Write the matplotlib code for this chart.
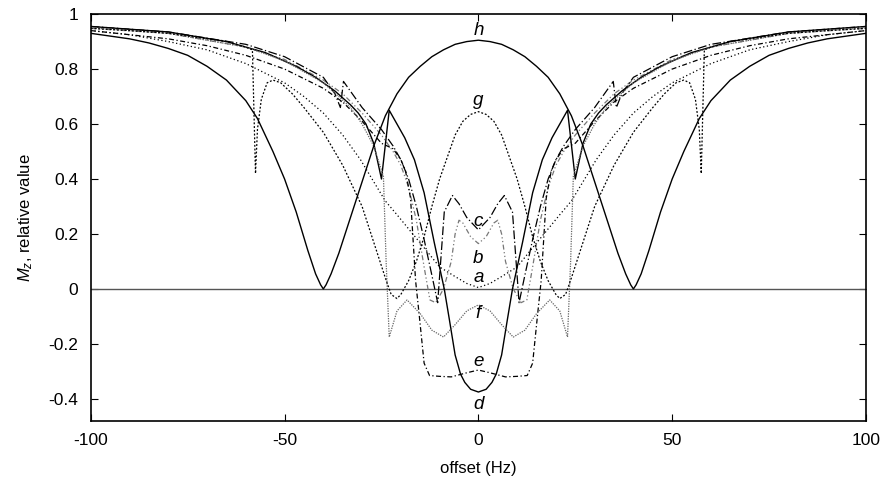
import numpy as np
import matplotlib.pyplot as plt

plt.rcParams['font.family'] = ['Liberation Sans', 'DejaVu Sans']
plt.rcParams['mathtext.fontset'] = 'custom'
plt.rcParams['mathtext.rm'] = 'Liberation Sans'
plt.rcParams['mathtext.it'] = 'Liberation Sans:italic'

# half curves for offset >= 0 (the plot is symmetric)
a_x = [0, 3, 6, 10, 14, 17.5, 21, 24, 27, 30.4, 35, 40, 45, 50, 60, 70, 80, 90, 100]
a_y = [0.005, 0.02, 0.045, 0.08, 0.15, 0.21, 0.27, 0.32, 0.39, 0.47, 0.56, 0.64, 0.70, 0.75, 0.82, 0.87, 0.90, 0.925, 0.94]

b_x = [0, 2, 4, 5, 6, 7, 9, 11, 12.5, 14, 16, 18, 20, 22, 25, 30, 35, 40, 50, 60, 80, 100]
b_y = [0.165, 0.19, 0.24, 0.25, 0.20, 0.10, 0.0, -0.05, -0.04, 0.08, 0.25, 0.37, 0.45, 0.50, 0.56, 0.64, 0.71, 0.76, 0.835, 0.88, 0.93, 0.948]

c_x = [0, 3, 5, 6.7, 8.8, 10.5, 12, 14, 16, 18, 20, 22, 25, 30, 34.8, 35.6, 37, 40, 50, 60, 80, 100]
c_y = [0.215, 0.26, 0.31, 0.34, 0.28, -0.05, 0.05, 0.18, 0.30, 0.40, 0.47, 0.52, 0.58, 0.66, 0.755, 0.66, 0.71, 0.77, 0.845, 0.89, 0.935, 0.955]

d_x = [0, 2, 3.5, 4.6, 6, 7.5, 8.8, 11.4, 14, 16.5, 19, 21, 23, 25, 27, 29, 31, 33, 37, 42, 47, 55, 65, 80, 100]
d_y = [-0.375, -0.365, -0.34, -0.31, -0.24, -0.11, 0.0, 0.17, 0.35, 0.47, 0.55, 0.60, 0.65, 0.40, 0.53, 0.60, 0.64, 0.67, 0.72, 0.77, 0.81, 0.86, 0.90, 0.935, 0.955]

e_x = [0, 3, 7, 10, 12.6, 14, 15.3, 16.2, 17.5, 18.8, 20, 22, 25, 30, 35, 40, 50, 60, 70, 80, 100]
e_y = [-0.295, -0.305, -0.32, -0.318, -0.315, -0.27, -0.09, 0.03, 0.33, 0.43, 0.47, 0.51, 0.53, 0.61, 0.68, 0.73, 0.80, 0.85, 0.885, 0.91, 0.94]

f_x = [0, 3, 6, 9, 12, 15, 18.4, 21, 23, 23.8, 24.5, 27, 30, 33, 36, 40, 50, 60, 80, 100]
f_y = [-0.058, -0.08, -0.13, -0.175, -0.15, -0.09, -0.04, -0.08, -0.175, 0.10, 0.41, 0.52, 0.60, 0.66, 0.70, 0.75, 0.83, 0.88, 0.93, 0.95]

g_x = [0, 2, 4, 6, 8, 10, 12, 14, 16, 18, 20, 21, 22.5, 24, 27, 30, 35, 40, 45, 48, 51, 53,
       54.5, 56, 57, 57.5, 58.3, 60, 65, 70, 80, 90, 100]
g_y = [0.645, 0.635, 0.61, 0.56, 0.48, 0.40, 0.30, 0.19, 0.10, 0.03, -0.02, -0.035, -0.02, 0.04, 0.17, 0.30, 0.45, 0.57, 0.66, 0.71, 0.75, 0.76,
       0.75, 0.69, 0.58, 0.42, 0.87, 0.88, 0.90, 0.91, 0.93, 0.94, 0.948]

h_x = [0, 3, 6, 9, 12, 15, 18, 21, 24, 27, 30, 33, 36, 38, 39.3, 40, 40.7, 42, 44, 47, 50, 53,
       57, 60, 65, 70, 75, 80, 85, 90, 95, 100]
h_y = [0.905, 0.90, 0.89, 0.87, 0.845, 0.81, 0.77, 0.71, 0.63, 0.52, 0.39, 0.26, 0.13, 0.055, 0.015, 0.0, 0.015, 0.055, 0.14, 0.28, 0.40, 0.50,
       0.62, 0.685, 0.76, 0.81, 0.85, 0.875, 0.895, 0.91, 0.92, 0.93]

labels = ['a', 'b', 'c', 'd', 'e', 'f', 'g', 'h']
label_y = [0.04, 0.11, 0.245, -0.42, -0.265, -0.09, 0.685, 0.94]


def mirror(x, y):
    x = np.array(x, dtype=float)
    y = np.array(y, dtype=float)
    return np.concatenate([-x[::-1], x[1:]]), np.concatenate([y[::-1], y[1:]])


curves = [
    (a_x, a_y, dict(color='black', lw=0.9, linestyle=(0, (1, 2)))),
    (b_x, b_y, dict(color='#777777', lw=0.9, linestyle=(0, (4, 2, 1, 2, 1, 2)))),
    (c_x, c_y, dict(color='black', lw=0.9, linestyle=(0, (7, 2, 1, 2)))),
    (d_x, d_y, dict(color='black', lw=1.0, linestyle='-')),
    (e_x, e_y, dict(color='black', lw=0.9, linestyle=(0, (4, 2, 1, 2)))),
    (f_x, f_y, dict(color='#666666', lw=0.9, linestyle=(0, (1, 1)))),
    (g_x, g_y, dict(color='black', lw=0.9, linestyle=(0, (1.5, 1.5)))),
    (h_x, h_y, dict(color='black', lw=1.0, linestyle='-')),
]

fig = plt.figure(figsize=(8.9, 4.86), dpi=100)
ax = fig.add_axes([0.102, 0.134, 0.871, 0.837])

ax.axhline(0, color='#555555', lw=1.0)
for x, y, style in curves:
    xx, yy = mirror(x, y)
    ax.plot(xx, yy, **style)

for lab, ly in zip(labels, label_y):
    ax.text(0, ly, lab, style='italic', fontsize=13.5, ha='center', va='center')

ax.set_xlim(-100, 100)
ax.set_ylim(-0.48, 1.0)
ax.set_xticks([-100, -50, 0, 50, 100])
ax.set_xticklabels(['-100', '-50', '0', '50', '100'])
ax.set_yticks([-0.4, -0.2, 0, 0.2, 0.4, 0.6, 0.8, 1])
ax.set_yticklabels(['-0.4', '-0.2', '0', '0.2', '0.4', '0.6', '0.8', '1'])
ax.tick_params(direction='in', top=True, right=True, length=5, labelsize=12.5, pad=9)
for s in ax.spines.values():
    s.set_linewidth(1.2)

ax.set_xlabel('offset (Hz)', fontsize=12, labelpad=9)
ax.set_ylabel(r'$M_z$, relative value', fontsize=12, labelpad=10)

fig.savefig('out.png', dpi=100)
